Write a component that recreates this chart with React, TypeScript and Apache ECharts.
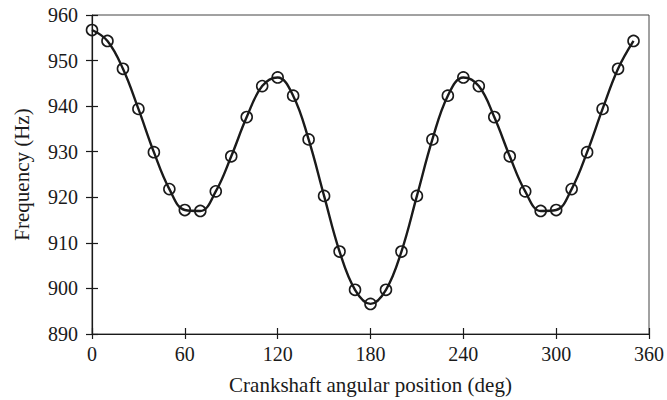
import React, { useEffect, useRef } from "react";
import * as echarts from "echarts";

const angles = [0, 10, 20, 30, 40, 50, 60, 70, 80, 90, 100, 110, 120, 130, 140, 150, 160, 170, 180, 190, 200, 210, 220, 230, 240, 250, 260, 270, 280, 290, 300, 310, 320, 330, 340, 350];
const frequency = [956.7, 954.3, 948.2, 939.4, 929.9, 921.8, 917.2, 917.0, 921.3, 929.0, 937.6, 944.4, 946.3, 942.3, 932.7, 920.3, 908.1, 899.7, 896.6, 899.7, 908.1, 920.3, 932.7, 942.3, 946.3, 944.4, 937.6, 929.0, 921.3, 917.0, 917.2, 921.8, 929.9, 939.4, 948.2, 954.3];
const xTitle = "Crankshaft angular position (deg)";
const yTitle = "Frequency (Hz)";

export default function App() {
  const ref = useRef<HTMLDivElement>(null);
  useEffect(() => {
    if (!ref.current) return;
    const chart = echarts.init(ref.current, null, { renderer: "svg" });
    const font = "Liberation Serif";
    const lineStyle = { color: "#1a1a1a", width: 1.2 };
    chart.setOption({
      animation: false,
      backgroundColor: "#ffffff",
      grid: {
        left: 92,
        right: 17,
        top: 15,
        bottom: 66,
        show: true,
        borderColor: "#444",
        borderWidth: 1,
      },
      xAxis: [
        {
          type: "value",
          min: 0,
          max: 360,
          interval: 60,
          name: xTitle,
          nameLocation: "middle",
          nameGap: 40,
          nameTextStyle: { fontFamily: font, fontSize: 21, color: "#1a1a1a" },
          axisLine: { show: true, lineStyle },
          axisTick: { show: true, length: 5, lineStyle },
          axisLabel: { fontFamily: font, fontSize: 20, color: "#1a1a1a", margin: 10 },
          splitLine: { show: false },
        },
        {
          type: "value",
          position: "bottom",
          min: 0,
          max: 360,
          interval: 60,
          axisLine: { show: false },
          axisTick: { show: true, inside: true, length: 6, lineStyle },
          axisLabel: { show: false },
          splitLine: { show: false },
        },
      ],
      yAxis: [
        {
          type: "value",
          min: 890,
          max: 960,
          interval: 10,
          name: yTitle,
          nameLocation: "middle",
          nameGap: 60,
          nameTextStyle: { fontFamily: font, fontSize: 21, color: "#1a1a1a" },
          axisLine: { show: true, lineStyle },
          axisTick: { show: true, length: 6, lineStyle },
          axisLabel: { fontFamily: font, fontSize: 20, color: "#1a1a1a", margin: 14 },
          splitLine: { show: false },
        },
        {
          type: "value",
          position: "left",
          min: 890,
          max: 960,
          interval: 10,
          axisLine: { show: false },
          axisTick: { show: true, inside: true, length: 6, lineStyle },
          axisLabel: { show: false },
          splitLine: { show: false },
        },
      ],
      series: [
        {
          type: "line",
          xAxisIndex: 0,
          yAxisIndex: 0,
          data: angles.map((a, i) => [a, frequency[i]]),
          smooth: 0.4,
          symbol: "circle",
          symbolSize: 11,
          showAllSymbol: true,
          lineStyle: { color: "#1a1a1a", width: 2.4 },
          itemStyle: { color: "rgba(255,255,255,0)", borderColor: "#1a1a1a", borderWidth: 1.6 },
        },
      ],
    });
    return () => chart.dispose();
  }, []);
  return <div ref={ref} style={{ width: 667, height: 400, position: "absolute", left: 0, top: 0 }} />;
}
